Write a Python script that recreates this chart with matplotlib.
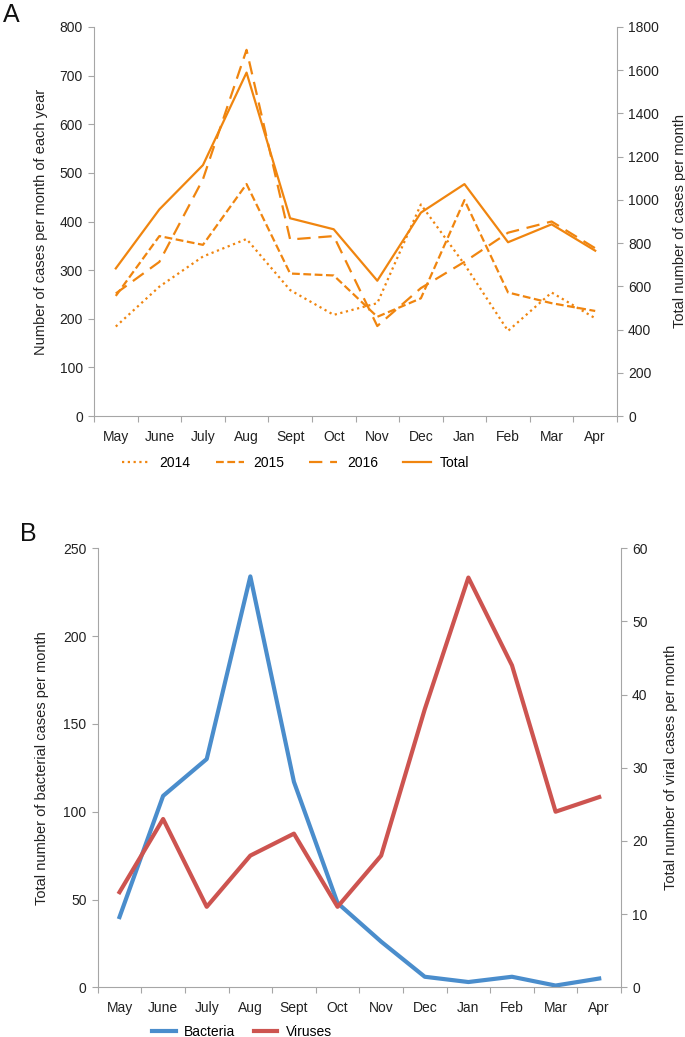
import matplotlib
matplotlib.use("Agg")
import matplotlib.pyplot as plt
import numpy as np

plt.rcParams['font.family'] = ['Liberation Sans', 'DejaVu Sans']

months = ['May', 'June', 'July', 'Aug', 'Sept', 'Oct', 'Nov', 'Dec', 'Jan', 'Feb', 'Mar', 'Apr']

# panel A: cases per month for each year (left axis) and total (right axis)
cases_2014 = [184, 266, 328, 364, 259, 208, 232, 435, 312, 175, 254, 201]
cases_2015 = [247, 370, 352, 477, 293, 289, 204, 242, 444, 254, 232, 216]
cases_2016 = [252, 317, 487, 753, 363, 370, 185, 263, 317, 377, 400, 345]
cases_total = [683, 956, 1161, 1589, 915, 864, 626, 941, 1073, 804, 887, 765]

# panel B: bacterial (left axis) and viral (right axis) cases
bacteria = [40, 109, 130, 234, 117, 48, 26, 6, 3, 6, 1, 5]
viruses = [13, 23, 11, 18, 21, 11, 18, 38, 56, 44, 24, 26]

orange = '#F0850F'
blue = '#4A8DCC'
red = '#CD5450'
spine_col = '#A6A6A6'
txt = '#222222'
tick_fs = 10
lab_fs = 10.5

x = np.arange(len(months))


def style_axis(ax, right=False):
    for s in ax.spines.values():
        s.set_visible(False)
    side = 'right' if right else 'left'
    ax.spines[side].set_visible(True)
    ax.spines[side].set_color(spine_col)
    ax.tick_params(axis='y', colors=spine_col, labelcolor=txt, labelsize=tick_fs,
                   length=4, width=0.8, direction='out', pad=4)


def style_xaxis(ax):
    ax.spines['bottom'].set_visible(True)
    ax.spines['bottom'].set_color(spine_col)
    ax.set_xlim(-0.5, len(months) - 0.5)
    ax.set_xticks(x)
    ax.set_xticklabels(months)
    ax.tick_params(axis='x', which='major', length=0, labelsize=tick_fs,
                   labelcolor=txt, pad=10)
    ax.set_xticks(np.arange(-0.5, len(months)), minor=True)
    ax.tick_params(axis='x', which='minor', length=4, width=0.8,
                   color=spine_col, direction='out')


fig = plt.figure(figsize=(6.85, 10.37), dpi=100)

# ---- panel A
axA = fig.add_axes([94 / 685, 1 - 416 / 1037, 523 / 685, 389 / 1037])
axA2 = axA.twinx()
style_axis(axA)
style_axis(axA2, right=True)
style_xaxis(axA)
axA2.spines['bottom'].set_visible(False)

l14, = axA.plot(x, cases_2014, color=orange, lw=1.6, linestyle=(0, (1, 1.6)), label='2014')
l15, = axA.plot(x, cases_2015, color=orange, lw=1.6, linestyle=(0, (3.5, 1.6)), label='2015')
l16, = axA.plot(x, cases_2016, color=orange, lw=1.6, linestyle=(0, (6, 3.5)), label='2016')
lt, = axA2.plot(x, cases_total, color=orange, lw=1.6, label='Total')

axA.set_ylim(0, 800)
axA.set_yticks(range(0, 801, 100))
axA2.set_ylim(0, 1800)
axA2.set_yticks(range(0, 1801, 200))
axA.set_ylabel('Number of cases per month of each year', fontsize=lab_fs, color=txt, labelpad=8)
axA2.set_ylabel('Total number of cases per month', fontsize=lab_fs, color=txt, labelpad=10)

fig.legend(handles=[l14, l15, l16, lt], loc='center', ncol=4,
           bbox_to_anchor=(296 / 685, 1 - 463 / 1037), frameon=False,
           fontsize=tick_fs, handlelength=2.0, columnspacing=1.8, handletextpad=0.7)
fig.text(3 / 685, 1 - 15 / 1037, 'A', fontsize=18, va='center', ha='left', color='#111111')

# ---- panel B
axB = fig.add_axes([97.7 / 685, 1 - 987.3 / 1037, 523.3 / 685, 439 / 1037])
axB2 = axB.twinx()
style_axis(axB)
style_axis(axB2, right=True)
style_xaxis(axB)
axB2.spines['bottom'].set_visible(False)

lb, = axB.plot(x, bacteria, color=blue, lw=3, label='Bacteria')
lv, = axB2.plot(x, viruses, color=red, lw=3, label='Viruses')

axB.set_ylim(0, 250)
axB.set_yticks(range(0, 251, 50))
axB2.set_ylim(0, 60)
axB2.set_yticks(range(0, 61, 10))
axB.set_ylabel('Total number of bacterial cases per month', fontsize=lab_fs, color=txt, labelpad=10)
axB2.set_ylabel('Total number of viral cases per month', fontsize=lab_fs, color=txt, labelpad=12)

fig.legend(handles=[lb, lv], loc='center', ncol=2,
           bbox_to_anchor=(242 / 685, 1 - 1032 / 1037), frameon=False,
           fontsize=tick_fs, handlelength=1.7, columnspacing=1.3, handletextpad=0.6)
fig.text(20 / 685, 1 - 534 / 1037, 'B', fontsize=18, va='center', ha='left', color='#111111')

fig.savefig('out.png', dpi=100)
